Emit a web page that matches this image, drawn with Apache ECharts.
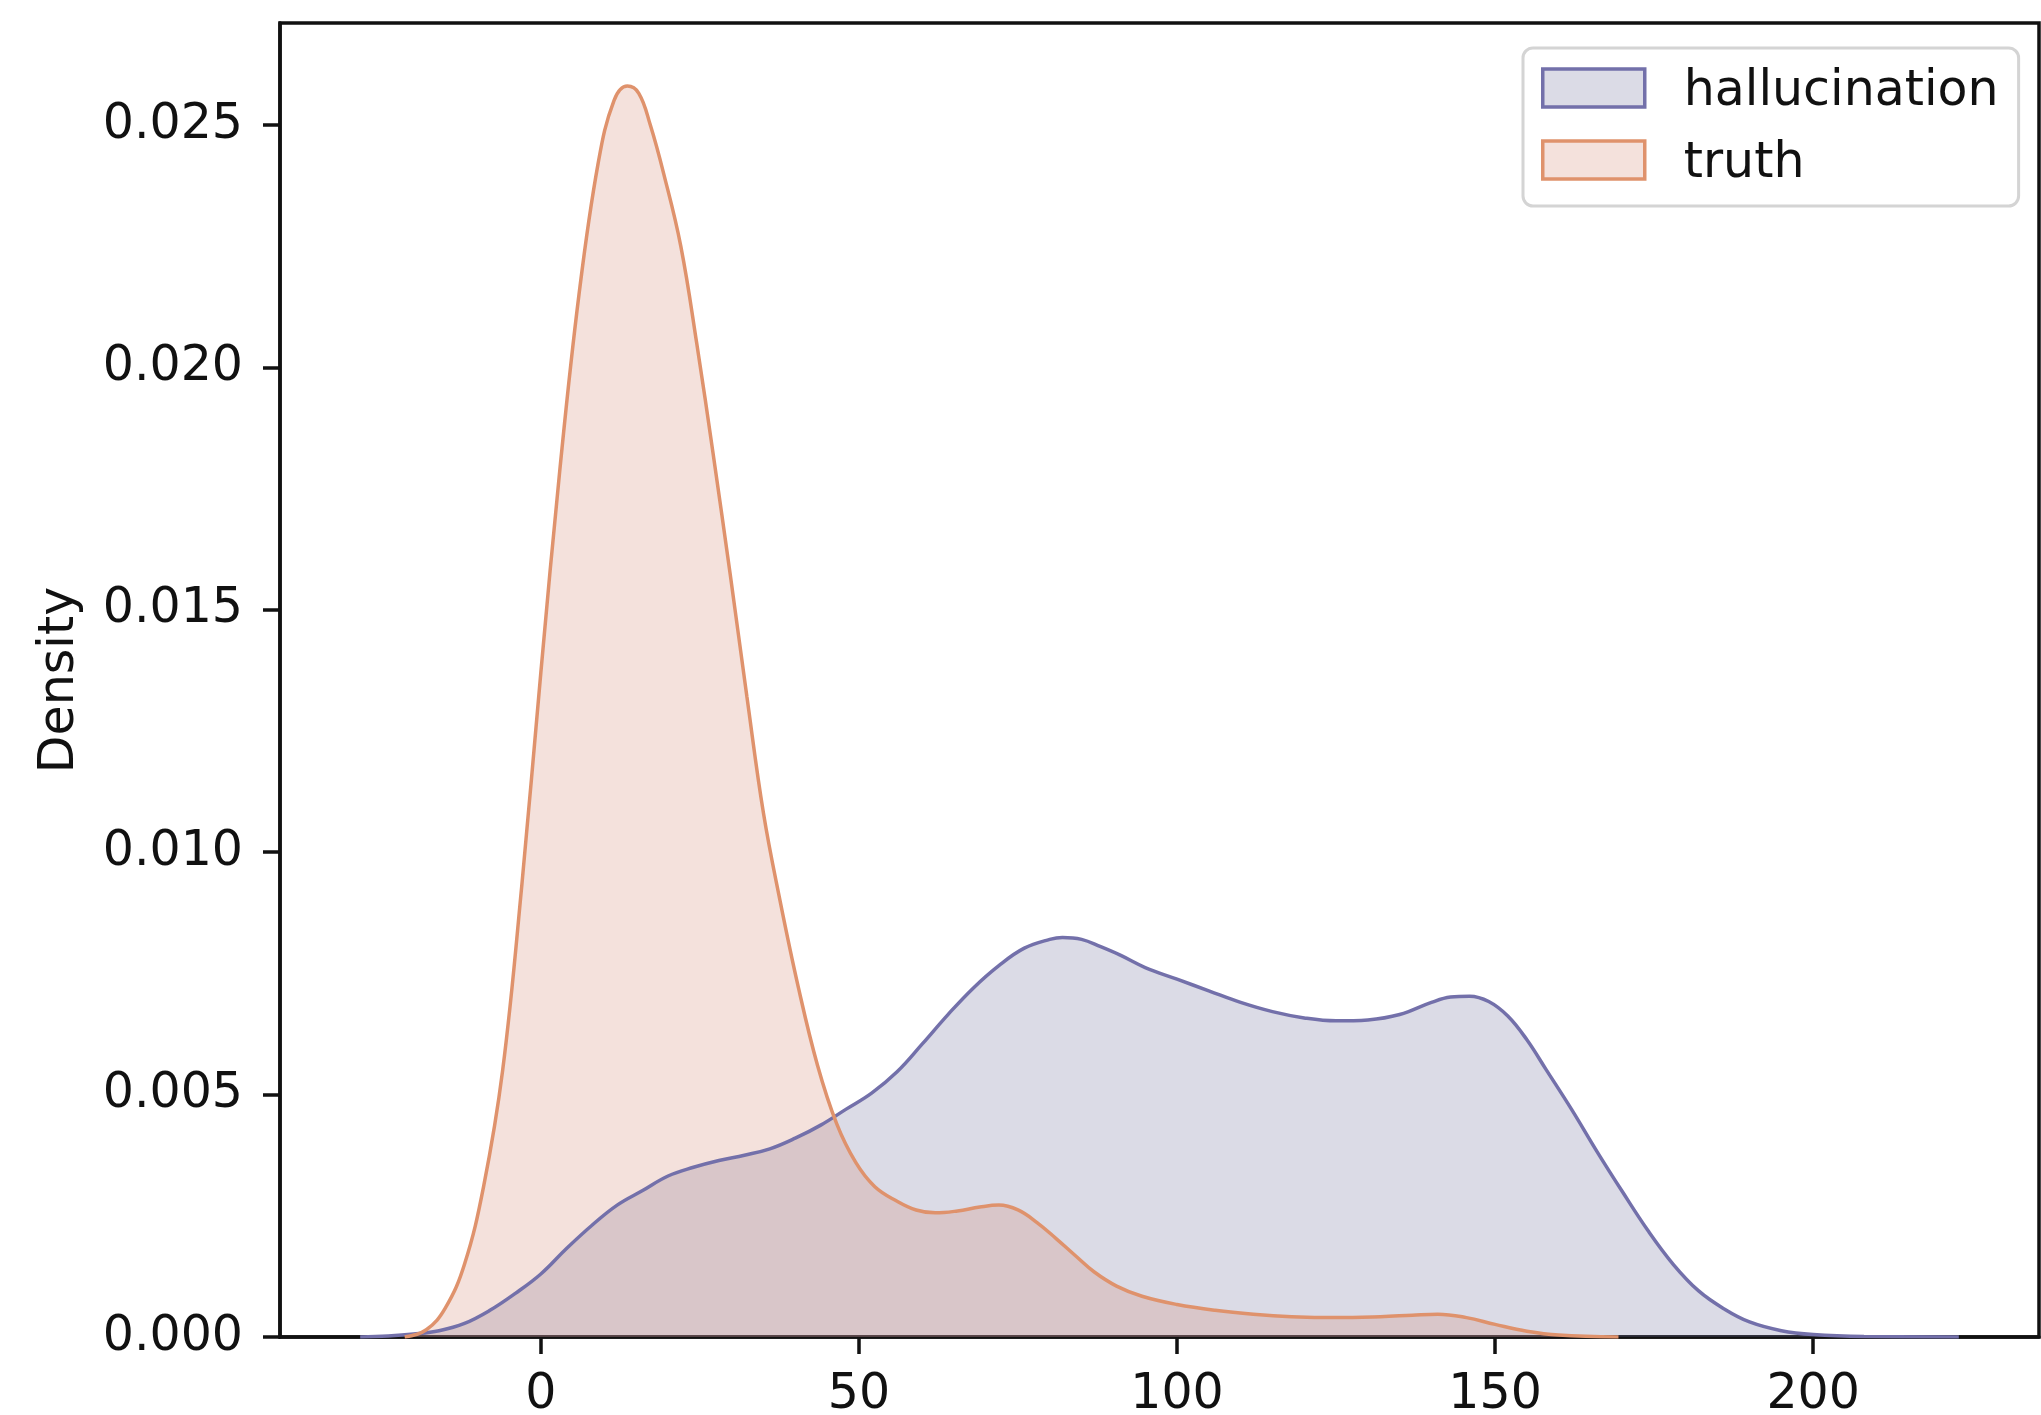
<!DOCTYPE html>
<html>
<head>
<meta charset="utf-8">
<script src="https://cdn.jsdelivr.net/npm/echarts@6/dist/echarts.min.js"></script>
<style>
  html, body { margin: 0; padding: 0; background: #fff; }
  #chart { width: 2041px; height: 1415px; }
</style>
</head>
<body>
<div id="chart"></div>
<script>
// ---- data ----
const seriesNames = ['hallucination', 'truth'];

const hallucinationX = [-28.4, -24, -20, -16, -12, -8, -4, 0, 4, 8, 12, 16, 20, 24, 28, 32, 36, 40, 44, 48, 52, 56, 60, 64, 68, 72, 76, 80, 82, 85, 88, 91, 95, 100, 105, 110, 115, 120, 125, 130, 135, 140, 143, 146, 149, 152, 155, 158, 162, 166, 170, 174, 178, 182, 186, 190, 195, 200, 208, 222.9];
const hallucinationY = [0, 0.00002, 0.00006, 0.00013, 0.00028, 0.00055, 0.0009, 0.0013, 0.00182, 0.0023, 0.00272, 0.00302, 0.00332, 0.0035, 0.00364, 0.00375, 0.00388, 0.0041, 0.00437, 0.0047, 0.00503, 0.00547, 0.00605, 0.00665, 0.0072, 0.00766, 0.00802, 0.0082, 0.00824, 0.0082, 0.00805, 0.00788, 0.00762, 0.00738, 0.00714, 0.0069, 0.00671, 0.00658, 0.00652, 0.00654, 0.00665, 0.0069, 0.00701, 0.00703, 0.00692, 0.00662, 0.00613, 0.00552, 0.0047, 0.00383, 0.003, 0.0022, 0.0015, 0.00095, 0.00058, 0.00031, 0.00013, 0.00005, 0.00001, 0];

const truthX = [-21.4, -18, -15, -12, -9, -6, -3, 0, 3, 6, 9, 11.5, 13.6, 15.4, 17.2, 19.3, 22, 24.5, 27.1, 29.8, 32.4, 35, 37.6, 40.5, 43.5, 46.5, 49.5, 52.5, 56, 59, 62, 65.5, 69, 72, 75, 78, 81, 84, 87, 90.5, 94.5, 100, 106, 112, 118, 125, 132, 137, 141, 145.5, 150, 155, 160, 169.4];
const truthY = [0, 0.00015, 0.0006, 0.0015, 0.0031, 0.0055, 0.0093, 0.0137, 0.0179, 0.0215, 0.0242, 0.0255, 0.0258, 0.02565, 0.0250, 0.024, 0.0225, 0.0205, 0.0182, 0.0157, 0.0132, 0.0108, 0.009, 0.0072, 0.0056, 0.0044, 0.0036, 0.0031, 0.0028, 0.00262, 0.00256, 0.0026, 0.00268, 0.00272, 0.00262, 0.00236, 0.00203, 0.00168, 0.00134, 0.00105, 0.00084, 0.00067, 0.00055, 0.00047, 0.00042, 0.0004, 0.00042, 0.00045, 0.00047, 0.0004, 0.00026, 0.00012, 0.00004, 0];

const xTickValues = [0, 50, 100, 150, 200];
const yTickValues = [0, 0.005, 0.010, 0.015, 0.020, 0.025];
const yAxisName = 'Density';

// ---- styles ----
const FONT = 'DejaVu Sans';
const FS = 49;
const lineColors = ['#7370aa', '#df926c'];
const fillColors = ['rgba(111,111,155,0.25)', 'rgba(211,135,115,0.25)'];
const legendFill = ['#dbdbe6', '#f4e1dc'];

function pairs(xs, ys) { return xs.map((x, i) => [x, ys[i]]); }
const seriesData = [pairs(hallucinationX, hallucinationY), pairs(truthX, truthY)];

const chart = echarts.init(document.getElementById('chart'), null, { renderer: 'canvas' });

const axisCommon = {
  axisLine: { show: true, onZero: false, lineStyle: { color: '#111', width: 3.5 } },
  axisTick: { show: true, inside: false, length: 17, lineStyle: { color: '#111', width: 3.5 } },
  splitLine: { show: false },
};

chart.setOption({
  backgroundColor: '#fff',
  animation: false,
  grid: {
    left: 280, top: 23, right: 2, bottom: 78,
    containLabel: false, outerBoundsMode: 'none',
    show: true, borderColor: '#111', borderWidth: 3.5, backgroundColor: 'transparent'
  },
  legend: {
    orient: 'vertical',
    left: 1523, top: 48,
    padding: [11, 20, 17, 18],
    itemGap: 14,
    itemWidth: 102, itemHeight: 38,
    backgroundColor: '#fff',
    borderColor: '#d4d4d4', borderWidth: 3, borderRadius: 10,
    formatter: name => '{t|' + name + '}',
    textStyle: {
      fontFamily: FONT, fontSize: FS, color: '#111',
      rich: { t: { fontFamily: FONT, fontSize: FS, color: '#111', lineHeight: 42, padding: [9, 0, 0, 34] } }
    },
    data: seriesNames.map((n, i) => ({
      name: n, icon: 'rect',
      itemStyle: { color: legendFill[i], borderColor: lineColors[i], borderWidth: 3.5 }
    }))
  },
  xAxis: Object.assign({}, axisCommon, {
    type: 'value', min: -41, max: 235.5,
    axisLabel: { customValues: xTickValues, margin: 34, fontFamily: FONT, fontSize: FS, color: '#111' },
    axisTick: Object.assign({}, axisCommon.axisTick, { customValues: xTickValues })
  }),
  yAxis: Object.assign({}, axisCommon, {
    type: 'value', min: 0, max: 0.0271,
    name: yAxisName, nameLocation: 'middle', nameGap: 195, nameRotate: 90,
    nameTextStyle: { fontFamily: FONT, fontSize: FS, color: '#111' },
    axisLabel: { customValues: yTickValues, margin: 37, fontFamily: FONT, fontSize: FS, color: '#111',
      formatter: v => v.toFixed(3) },
    axisTick: Object.assign({}, axisCommon.axisTick, { customValues: yTickValues })
  }),
  series: seriesNames.map((n, i) => ({
    name: n, type: 'line', data: seriesData[i],
    smooth: 0.4, showSymbol: false, symbol: 'none',
    lineStyle: { color: lineColors[i], width: 3.5 },
    itemStyle: { color: lineColors[i] },
    areaStyle: { color: fillColors[i], opacity: 1, origin: 'start' }
  }))
});
</script>
</body>
</html>
